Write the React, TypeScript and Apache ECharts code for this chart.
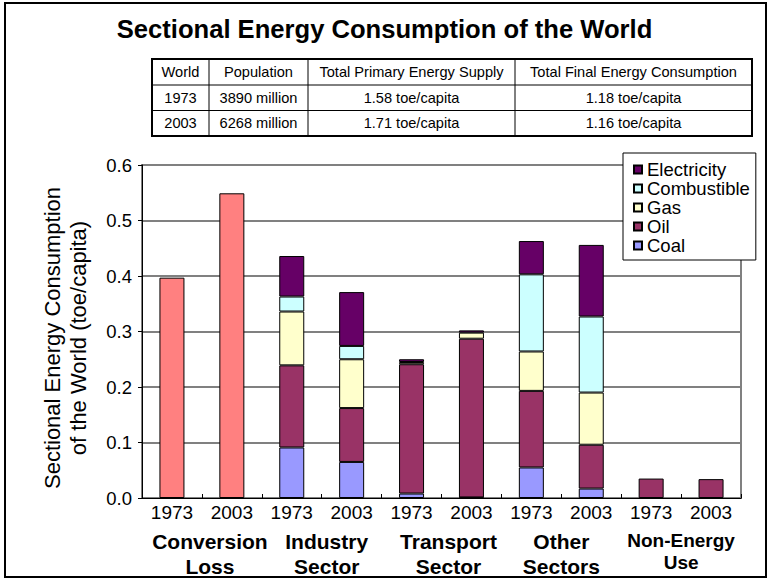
import React, { useEffect, useRef } from "react";
import * as echarts from "echarts";

const FONT = '"Liberation Sans", Arial, Helvetica, sans-serif';

const years = ["1973", "2003", "1973", "2003", "1973", "2003", "1973", "2003", "1973", "2003"];
const groups = ["Conversion\nLoss", "Industry\nSector", "Transport\nSector", "Other\nSectors", "Non-Energy\nUse"];
const yTicks = [0, 0.1, 0.2, 0.3, 0.4, 0.5, 0.6];

const conversionLoss = [0.397, 0.549, null, null, null, null, null, null, null, null];
const coal = [null, null, 0.091, 0.065, 0.008, 0.001, 0.055, 0.017, null, null];
const oil = [null, null, 0.148, 0.097, 0.233, 0.286, 0.138, 0.079, 0.035, 0.034];
const gas = [null, null, 0.097, 0.088, 0.004, 0.011, 0.071, 0.094, null, null];
const combustible = [null, null, 0.027, 0.024, null, null, 0.139, 0.137, null, null];
const electricity = [null, null, 0.073, 0.097, 0.005, 0.004, 0.06, 0.129, null, null];

const legendOrder = ["Electricity", "Combustible", "Gas", "Oil", "Coal"];

const tableHeader = ["World", "Population", "Total Primary Energy Supply", "Total Final Energy Consumption"];
const tableRows = [
  ["1973", "3890 million", "1.58 toe/capita", "1.18 toe/capita"],
  ["2003", "6268 million", "1.71 toe/capita", "1.16 toe/capita"],
];

const titleText = "Sectional Energy Consumption of the World";
const yTitle = "Sectional Energy Consumption\nof the World (toe/capita)";

// horizontal nudges (px) of the group labels, as left padding of a centred block
const groupLabelPad = [16, 10, 14, 0, 0];

export default function App() {
  const ref = useRef<HTMLDivElement>(null);

  useEffect(() => {
    if (!ref.current) return;
    const chart = echarts.init(ref.current, undefined, { renderer: "svg" });

    const colX = [152, 209, 308, 515, 752];
    const rowY = [59, 85, 110.5, 136];
    const tableGraphics: any[] = [];
    tableGraphics.push({
      type: "rect",
      shape: { x: colX[0], y: rowY[0], width: colX[4] - colX[0], height: rowY[3] - rowY[0] },
      style: { fill: "#fff", stroke: "#000", lineWidth: 2 },
      z: 10,
    });
    for (let i = 1; i < colX.length - 1; i++) {
      tableGraphics.push({
        type: "line",
        shape: { x1: colX[i], y1: rowY[0], x2: colX[i], y2: rowY[3] },
        style: { stroke: "#000", lineWidth: 1 },
        z: 11,
      });
    }
    for (let j = 1; j < rowY.length - 1; j++) {
      tableGraphics.push({
        type: "line",
        shape: { x1: colX[0], y1: rowY[j], x2: colX[4], y2: rowY[j] },
        style: { stroke: "#000", lineWidth: 1 },
        z: 11,
      });
    }
    const allRows = [tableHeader, ...tableRows];
    allRows.forEach((row, r) => {
      row.forEach((cell, c) => {
        tableGraphics.push({
          type: "text",
          x: (colX[c] + colX[c + 1]) / 2,
          y: (rowY[r] + rowY[r + 1]) / 2,
          style: {
            text: cell,
            align: "center",
            verticalAlign: "middle",
            font: `14.6px ${FONT}`,
            fill: "#000",
          },
          z: 12,
        });
      });
    });

    const barStyle = (color: string) => ({ color, borderColor: "#000", borderWidth: 1 });
    const mkSeries = (name: string, data: (number | null)[], color: string) => ({
      name,
      type: "bar",
      stack: "total",
      barWidth: 25,
      data,
      itemStyle: barStyle(color),
      xAxisIndex: 0,
      yAxisIndex: 0,
    });

    const rich: Record<string, any> = {};
    groups.forEach((g, i) => {
      const small = g.startsWith("Non-Energy");
      rich["g" + i] = {
        fontFamily: FONT,
        fontSize: small ? 19 : 21,
        fontWeight: "bold",
        color: "#000",
        lineHeight: small ? 22 : 25,
        padding: [0, 0, 0, groupLabelPad[i]],
      };
    });

    chart.setOption({
      animation: false,
      backgroundColor: "#fff",
      title: {
        text: titleText,
        left: "center",
        top: 16,
        padding: 0,
        textStyle: { fontFamily: FONT, fontSize: 25.6, fontWeight: "bold", color: "#000" },
      },
      legend: {
        data: legendOrder,
        orient: "vertical",
        left: 623,
        top: 153,
        padding: [7, 6, 5, 10],
        itemWidth: 8,
        itemHeight: 8,
        itemGap: 0,
        icon: "rect",
        backgroundColor: "#fff",
        borderColor: "#000",
        borderWidth: 1,
        textStyle: { fontFamily: FONT, fontSize: 18.5, color: "#000", lineHeight: 18.3 },
      },
      grid: {
        left: 142,
        right: 28,
        top: 165,
        bottom: 83,
        show: true,
        borderColor: "#808080",
        borderWidth: 2,
        backgroundColor: "transparent",
      },
      xAxis: [
        {
          type: "category",
          data: years,
          position: "bottom",
          axisLine: { show: true, lineStyle: { color: "#000", width: 1 } },
          axisTick: { show: true, inside: true, length: 4, lineStyle: { color: "#000" } },
          axisLabel: { fontFamily: FONT, fontSize: 19, color: "#000", margin: 5 },
          splitLine: { show: false },
        },
        {
          type: "category",
          data: groups,
          position: "bottom",
          axisLine: { show: false },
          axisTick: { show: false },
          axisLabel: {
            margin: 31,
            formatter: (v: string, idx: number) =>
              v
                .split("\n")
                .map((s) => `{g${idx}|${s}}`)
                .join("\n"),
            rich,
          },
        },
      ],
      yAxis: {
        type: "value",
        min: yTicks[0],
        max: yTicks[yTicks.length - 1],
        interval: 0.1,
        axisLine: { show: true, lineStyle: { color: "#000", width: 1 } },
        axisTick: { show: true, length: 4, lineStyle: { color: "#000" } },
        axisLabel: {
          fontFamily: FONT,
          fontSize: 18.5,
          color: "#000",
          margin: 10,
          formatter: (v: number) => v.toFixed(1),
        },
        splitLine: { show: true, lineStyle: { color: "#808080", width: 2 } },
      },
      series: [
        mkSeries("Conversion Loss", conversionLoss, "#FF8080"),
        mkSeries("Coal", coal, "#9999FF"),
        mkSeries("Oil", oil, "#993366"),
        mkSeries("Gas", gas, "#FFFFCC"),
        mkSeries("Combustible", combustible, "#CCFFFF"),
        mkSeries("Electricity", electricity, "#660066"),
      ],
      graphic: [
        {
          type: "rect",
          shape: { x: 5, y: 3, width: 761, height: 574 },
          style: { fill: "none", stroke: "#000", lineWidth: 2 },
          z: 20,
          silent: true,
        },
        ...tableGraphics,
        {
          type: "text",
          x: 65,
          y: 338,
          rotation: Math.PI / 2,
          style: {
            text: yTitle,
            align: "center",
            verticalAlign: "middle",
            font: `22px ${FONT}`,
            lineHeight: 26,
            fill: "#000",
          },
        },
      ],
    });

    return () => chart.dispose();
  }, []);

  return (
    <div
      ref={ref}
      style={{ position: "absolute", left: 0, top: 0, width: 769, height: 581, background: "#fff" }}
    />
  );
}
